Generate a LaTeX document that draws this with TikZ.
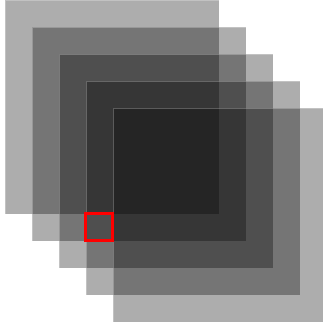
\documentclass[tikz,border=0pt]{standalone}
\usepackage{tikz}

\tikzset{
  layer/.style={fill=black, fill opacity=0.32, draw=white, draw opacity=0.25, line width=0.3mm},
  marker/.style={draw=red, line width=0.3cm}
}

\begin{document}
\begin{tikzpicture}[x=0.1cm, y=-0.1cm]
\useasboundingbox (0,0) rectangle (323,327);
% Stacked layers, each shifted by one cell
\foreach \i in {0,...,4} {
    \path[layer] (5+27*\i,0+27*\i) rectangle ++(214,214);
}
% Highlighted cell
\draw[marker] (85.5,213.5) rectangle (112.5,240.5);
\end{tikzpicture}
\end{document}
